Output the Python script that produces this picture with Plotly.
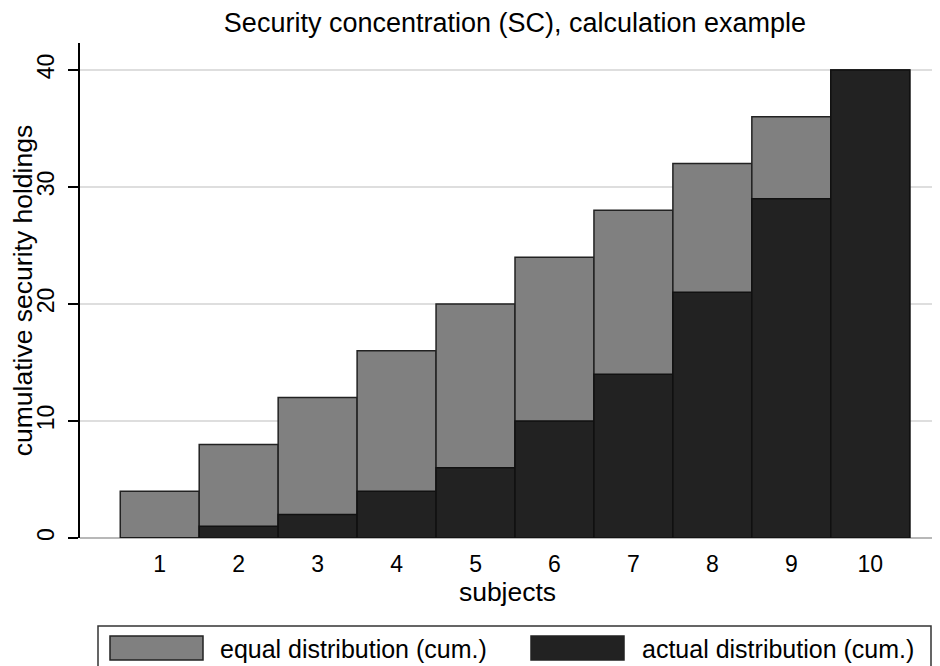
import plotly.graph_objects as go

subjects = [1, 2, 3, 4, 5, 6, 7, 8, 9, 10]
equal_cum = [4, 8, 12, 16, 20, 24, 28, 32, 36, 40]
actual_cum = [0, 1, 2, 4, 6, 10, 14, 21, 29, 40]
y_ticks = [0, 10, 20, 30, 40]
series_names = ["equal distribution (cum.)", "actual distribution (cum.)"]
colors = ["#808080", "#222222"]

FONT = "Liberation Sans, Arial, sans-serif"
title_font = dict(family=FONT, size=26.5, color="black")

fig = go.Figure()
fig.add_trace(go.Bar(x=subjects, y=equal_cum, width=1, name=series_names[0],
                     marker=dict(color=colors[0], line=dict(color="#222222", width=1.5)),
                     showlegend=False))
fig.add_trace(go.Bar(x=subjects, y=actual_cum, width=1, name=series_names[1],
                     marker=dict(color=colors[1], line=dict(color="#111111", width=1.5)),
                     showlegend=False))

# page body has an 8px margin: figure is 8px smaller and drawn at (8, 8)
fig.update_layout(
    width=932, height=658,
    barmode="overlay",
    plot_bgcolor="white", paper_bgcolor="white",
    margin=dict(l=72, r=5, t=35, b=128, autoexpand=False),
    font=dict(family=FONT, size=23, color="black"),
    title=dict(text="Security concentration (SC), calculation example",
               x=(515 - 8) / 932, xanchor="center", y=1 - 15 / 658, yanchor="middle",
               font=dict(family=FONT, size=27, color="black"), automargin=False),
    xaxis=dict(range=[-0.01, 10.82], tickvals=subjects, showgrid=False,
               zeroline=False, showline=False, ticks="", automargin=False,
               ticklabelstandoff=10,
               title=dict(text="subjects", standoff=4, font=title_font),
               tickfont=dict(family=FONT, size=23, color="black")),
    yaxis=dict(range=[0, 42.3], tickvals=y_ticks, tickangle=-90, automargin=False,
               showgrid=True, gridcolor="#dedede", gridwidth=2,
               zeroline=True, zerolinecolor="#b8b8b8", zerolinewidth=2,
               showline=True, linecolor="black", linewidth=1.5,
               ticks="outside", ticklen=10, tickcolor="black", tickwidth=1.5,
               ticklabelstandoff=5,
               title=dict(text="cumulative security holdings", standoff=0,
                          font=title_font),
               tickfont=dict(family=FONT, size=23, color="black")),
)

# legend box (custom, Stata style)
fig.add_shape(type="rect", xref="paper", yref="paper",
              x0=(98 - 80) / 855, x1=(931 - 80) / 855,
              y0=-(680 - 538) / 495, y1=-(626 - 538) / 495,
              line=dict(color="#333333", width=1.5), fillcolor="white")
sw = [(110, 203), (531, 624)]
tx = [218, 640]
for i in range(2):
    fig.add_shape(type="rect", xref="paper", yref="paper",
                  x0=(sw[i][0] - 80) / 855, x1=(sw[i][1] - 80) / 855,
                  y0=-(660 - 538) / 495, y1=-(636 - 538) / 495,
                  line=dict(color="#222222", width=1.5), fillcolor=colors[i])
    fig.add_annotation(xref="paper", yref="paper",
                       x=(tx[i] - 80) / 855, y=-(649 - 538) / 495,
                       text=series_names[i], showarrow=False,
                       xanchor="left", yanchor="middle",
                       font=dict(family=FONT, size=25, color="black"))

fig.write_html("out.html")
